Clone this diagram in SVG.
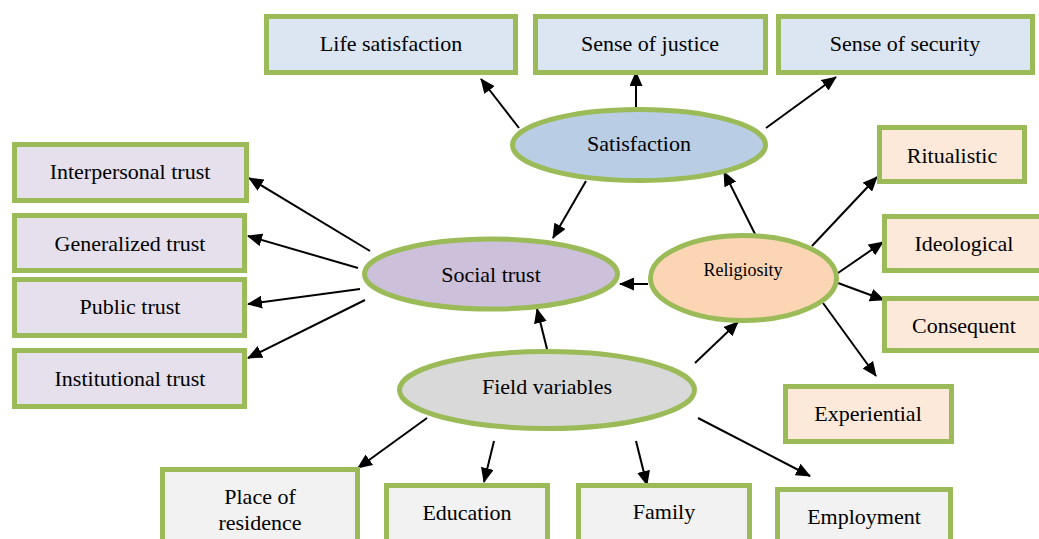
<svg xmlns="http://www.w3.org/2000/svg" width="1039" height="539" viewBox="0 0 1039 539">
<style>
.box{stroke:#9BBB59;stroke-width:5}
.ell{stroke:#9BBB59;stroke-width:5}
text{font-size:22px;fill:#000;text-anchor:middle;dominant-baseline:central}
.c line{stroke:#000;stroke-width:2;marker-end:url(#ah)}
.blue{fill:#DCE6F2}.purp{fill:#E5E0EC}.peach{fill:#FDE9D9}.grey{fill:#F2F2F2}
</style>
<defs>
<marker id="ah" markerUnits="userSpaceOnUse" markerWidth="15" markerHeight="13" refX="14" refY="6.5" orient="auto">
<path d="M0,0 L15,6.5 L0,13 z" fill="#000"/>
</marker>
</defs>
<rect width="1039" height="539" fill="#fff"/>
<g class="c" id="connectors">
<line x1="519" y1="128" x2="481" y2="79"/>
<line x1="636" y1="107" x2="636" y2="72"/>
<line x1="766" y1="128" x2="836" y2="77"/>
<line x1="586" y1="181" x2="553" y2="238"/>
<line x1="763" y1="250" x2="724" y2="172"/>
<line x1="370" y1="251" x2="249" y2="178"/>
<line x1="358" y1="268" x2="248" y2="236"/>
<line x1="360" y1="289" x2="248" y2="304"/>
<line x1="365" y1="300" x2="248" y2="358"/>
<line x1="648" y1="284" x2="620" y2="284"/>
<line x1="812" y1="246" x2="877" y2="177"/>
<line x1="838" y1="273" x2="883" y2="242"/>
<line x1="838" y1="283" x2="884" y2="300"/>
<line x1="823" y1="303" x2="876" y2="376"/>
<line x1="547" y1="349" x2="537" y2="309"/>
<line x1="695" y1="363" x2="738" y2="322"/>
<line x1="427" y1="418" x2="358" y2="468"/>
<line x1="494" y1="441" x2="484" y2="482"/>
<line x1="636" y1="441" x2="647" y2="485"/>
<line x1="698" y1="418" x2="810" y2="476"/>
</g>
<g font-family="Liberation Serif, Times New Roman, serif">
<g id="life"><rect class="box blue" x="266.5" y="16.5" width="249" height="56"/><text x="391" y="43">Life satisfaction</text></g>
<g id="justice"><rect class="box blue" x="535.5" y="16.5" width="230" height="56"/><text x="650" y="43">Sense of justice</text></g>
<g id="security"><rect class="box blue" x="778.5" y="16.5" width="254" height="56"/><text x="905" y="43">Sense of security</text></g>
<g id="satisfaction"><ellipse class="ell" cx="639" cy="145" rx="126.5" ry="35.5" fill="#B9CDE5"/><text x="639" y="143">Satisfaction</text></g>
<g id="interpersonal"><rect class="box purp" x="14.5" y="144.5" width="232" height="56"/><text x="130" y="171">Interpersonal trust</text></g>
<g id="generalized"><rect class="box purp" x="14.5" y="215.5" width="230" height="55"/><text x="130" y="243">Generalized trust</text></g>
<g id="public"><rect class="box purp" x="14.5" y="279.5" width="230" height="56"/><text x="130" y="306">Public trust</text></g>
<g id="institutional"><rect class="box purp" x="14.5" y="350.5" width="230" height="56"/><text x="130" y="378">Institutional trust</text></g>
<g id="socialtrust"><ellipse class="ell" cx="491" cy="274" rx="126.5" ry="35" fill="#CCC0DA"/><text x="491" y="274">Social trust</text></g>
<g id="religiosity"><ellipse class="ell" cx="743.5" cy="278" rx="93" ry="42.5" fill="#FCD5B5"/><text x="743" y="270" style="font-size:18px">Religiosity</text></g>
<g id="ritualistic"><rect class="box peach" x="879.5" y="127.5" width="145" height="54"/><text x="952" y="155">Ritualistic</text></g>
<g id="ideological"><rect class="box peach" x="884.5" y="216.5" width="160" height="54"/><text x="964" y="243">Ideological</text></g>
<g id="consequent"><rect class="box peach" x="884.5" y="298.5" width="160" height="52"/><text x="964" y="325">Consequent</text></g>
<g id="experiential"><rect class="box peach" x="785.5" y="386.5" width="166" height="55"/><text x="868" y="413">Experiential</text></g>
<g id="field"><ellipse class="ell" cx="547" cy="390" rx="147.5" ry="38.5" fill="#D9D9D9"/><text x="547" y="386">Field variables</text></g>
<g id="residence"><rect class="box grey" x="162.5" y="469.5" width="195" height="80"/><text x="260" y="496">Place of</text><text x="260" y="522">residence</text></g>
<g id="education"><rect class="box grey" x="386.5" y="485.5" width="161" height="70"/><text x="467" y="512">Education</text></g>
<g id="family"><rect class="box grey" x="578.5" y="485.5" width="171" height="70"/><text x="664" y="511">Family</text></g>
<g id="employment"><rect class="box grey" x="777.5" y="489.5" width="173" height="70"/><text x="864" y="516">Employment</text></g>
</g>
</svg>
